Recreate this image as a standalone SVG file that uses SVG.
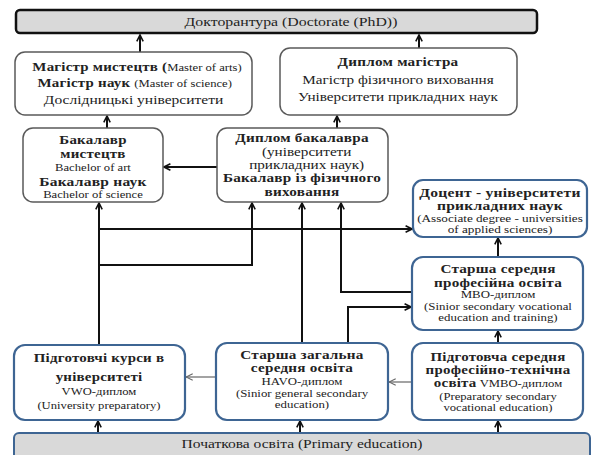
<svg xmlns="http://www.w3.org/2000/svg" width="592" height="455" viewBox="0 0 592 455" font-family="'Liberation Serif', 'DejaVu Serif', serif">
<style>
text{font-family:"Liberation Serif","DejaVu Serif",serif;fill:#222;text-anchor:middle}
.b{font-weight:bold;font-size:13px;letter-spacing:0.2px}
.r{font-size:13px}
.s{font-size:11px}
.up{fill:#fff;stroke:#5a5a5a;stroke-width:1.5}
.lo{fill:#fff;stroke:#3e6593;stroke-width:2.2}
.gr{fill:#d9d9d9}
.c{fill:none;stroke:#111;stroke-width:2}
.t{fill:none;stroke:#666;stroke-width:1.2}
</style>
<defs>
<marker id="a" viewBox="0 0 10 10" refX="9" refY="5" markerWidth="4" markerHeight="4" orient="auto" markerUnits="strokeWidth">
<path d="M1,1 L9,5 L1,9" fill="none" stroke="#111" stroke-width="2"/>
</marker>
<marker id="at" viewBox="0 0 10 10" refX="9" refY="5" markerWidth="7" markerHeight="7" orient="auto" markerUnits="strokeWidth">
<path d="M1,1 L9,5 L1,9" fill="none" stroke="#666" stroke-width="1.3"/>
</marker>
</defs>
<rect width="592" height="455" fill="#fff"/>

<g id="connectors">
<path class="c" d="M140,52 V35" marker-end="url(#a)"/>
<path class="c" d="M419,48 V35" marker-end="url(#a)"/>
<path class="c" d="M107,128 V116" marker-end="url(#a)"/>
<path class="c" d="M337,128 V116" marker-end="url(#a)"/>
<path class="c" d="M217,167 H164" marker-end="url(#a)"/>
<path class="c" d="M99,345 V203" marker-end="url(#a)"/>
<path class="c" d="M99,229 H412" marker-end="url(#a)"/>
<path class="c" d="M99,265 H252 V203" marker-end="url(#a)"/>
<path class="c" d="M302,343 V203" marker-end="url(#a)"/>
<path class="c" d="M412,292 H341 V203" marker-end="url(#a)"/>
<path class="c" d="M348,343 V307 H411" marker-end="url(#a)"/>
<path class="c" d="M498,257 V238" marker-end="url(#a)"/>
<path class="c" d="M498,343 V331" marker-end="url(#a)"/>
<path class="t" d="M412,382 H389" marker-end="url(#at)"/>
<path class="t" d="M216,377 H186" marker-end="url(#at)"/>
<path class="c" d="M98,433 V421" marker-end="url(#a)"/>
<path class="c" d="M300,433 V421" marker-end="url(#a)"/>
<path class="c" d="M498,433 V421" marker-end="url(#a)"/>
</g>

<g id="doctorate">
<rect x="16" y="10" width="521" height="23" rx="4" class="gr" stroke="#111" stroke-width="2.5"/>
<g transform="translate(291,0) scale(1.17,1) translate(-291,0)">
<text x="291" y="26" class="r" style="font-size:13.5px">Докторантура (Doctorate (PhD))</text>
</g>
</g>

<g id="master-arts">
<rect x="15" y="52" width="237" height="63" rx="10" class="up"/>
<g transform="translate(137,0) scale(1.15,1) translate(-137,0)">
<text x="137" y="71"><tspan class="b">Магістр мистецтв (</tspan><tspan class="s">Master of arts)</tspan></text>
<text x="135" y="87"><tspan class="b">Магістр наук </tspan><tspan class="s">(Master of science)</tspan></text>
<text x="134" y="104" class="r" style="font-size:13.5px">Дослідницькі університети</text>
</g>
</g>

<g id="master-diploma">
<rect x="280" y="48" width="237" height="67" rx="10" class="up"/>
<g transform="translate(398,0) scale(1.17,1) translate(-398,0)">
<text x="398" y="66" class="b">Диплом магістра</text>
<text x="398" y="84" class="r">Магістр фізичного виховання</text>
<text x="398" y="101" class="r">Університети прикладних наук</text>
</g>
</g>

<g id="bachelor">
<rect x="23" y="128" width="140" height="74" rx="10" class="up"/>
<g transform="translate(93,0) scale(1.15,1) translate(-93,0)">
<text x="93" y="144" class="b">Бакалавр</text>
<text x="93" y="158" class="b">мистецтв</text>
<text x="93" y="171" class="s">Bachelor of art</text>
<text x="93" y="186" class="b" style="font-size:13.5px">Бакалавр наук</text>
<text x="93" y="198" class="s">Bachelor of science</text>
</g>
</g>

<g id="bachelor-diploma">
<rect x="217" y="128" width="171" height="74" rx="10" class="up"/>
<g transform="translate(302,0) scale(1.17,1) translate(-302,0)">
<text x="302" y="142" class="b">Диплом бакалавра</text>
<text x="306" y="156" class="r">(університети</text>
<text x="306" y="169" class="r">прикладних наук)</text>
<text x="302" y="182" class="b">Бакалавр із фізичного</text>
<text x="302" y="196" class="b">виховання</text>
</g>
</g>

<g id="associate">
<rect x="413" y="180" width="174" height="57" rx="10" class="lo"/>
<g transform="translate(500,0) scale(1.2,1) translate(-500,0)">
<text x="500" y="197" class="b">Доцент - університети</text>
<text x="500" y="210" class="b">прикладних наук</text>
<text x="500" y="222" class="s">(Associate degree - universities</text>
<text x="500" y="233" class="s">of applied sciences)</text>
</g>
</g>

<g id="mbo">
<rect x="412" y="257" width="171" height="73" rx="11" class="lo"/>
<g transform="translate(498,0) scale(1.17,1) translate(-498,0)">
<text x="498" y="273" class="b">Старша середня</text>
<text x="498" y="287" class="b">професійна освіта</text>
<text x="498" y="298" class="s">MBO-диплом</text>
<text x="498" y="310" class="s">(Sinior  secondary vocational</text>
<text x="498" y="321" class="s">education and training)</text>
</g>
</g>

<g id="vmbo">
<rect x="412" y="343" width="171" height="77" rx="11" class="lo"/>
<g transform="translate(498,0) scale(1.15,1) translate(-498,0)">
<text x="498" y="361" class="b">Підготовча середня</text>
<text x="498" y="374" class="b">професійно-технічна</text>
<text x="498" y="387"><tspan class="b">освіта</tspan><tspan class="s">  VMBO-диплом</tspan></text>
<text x="498" y="400" class="s">(Preparatory secondary</text>
<text x="498" y="411" class="s">vocational education)</text>
</g>
</g>

<g id="havo">
<rect x="216" y="343" width="172" height="77" rx="11" class="lo"/>
<g transform="translate(302,0) scale(1.17,1) translate(-302,0)">
<text x="302" y="359" class="b">Старша загальна</text>
<text x="302" y="372" class="b">середня освіта</text>
<text x="302" y="385" class="s">HAVO-диплом</text>
<text x="302" y="397" class="s">(Sinior general  secondary</text>
<text x="302" y="408" class="s">education)</text>
</g>
</g>

<g id="prep">
<rect x="14" y="345" width="171" height="75" rx="11" class="lo"/>
<g transform="translate(99,0) scale(1.15,1) translate(-99,0)">
<text x="99" y="362" class="b">Підготовчі курси в</text>
<text x="99" y="381" class="b">університеті</text>
<text x="99" y="395" class="s">VWO-диплом</text>
<text x="99" y="409" class="s">(University preparatory)</text>
</g>
</g>

<g id="primary">
<rect x="14" y="433" width="576" height="30" rx="5" class="gr" stroke="#3e6593" stroke-width="2"/>
<g transform="translate(302,0) scale(1.15,1) translate(-302,0)">
<text x="302" y="448" class="r" style="font-size:13.5px">Початкова освіта (Primary education)</text>
</g>
</g>
</svg>
